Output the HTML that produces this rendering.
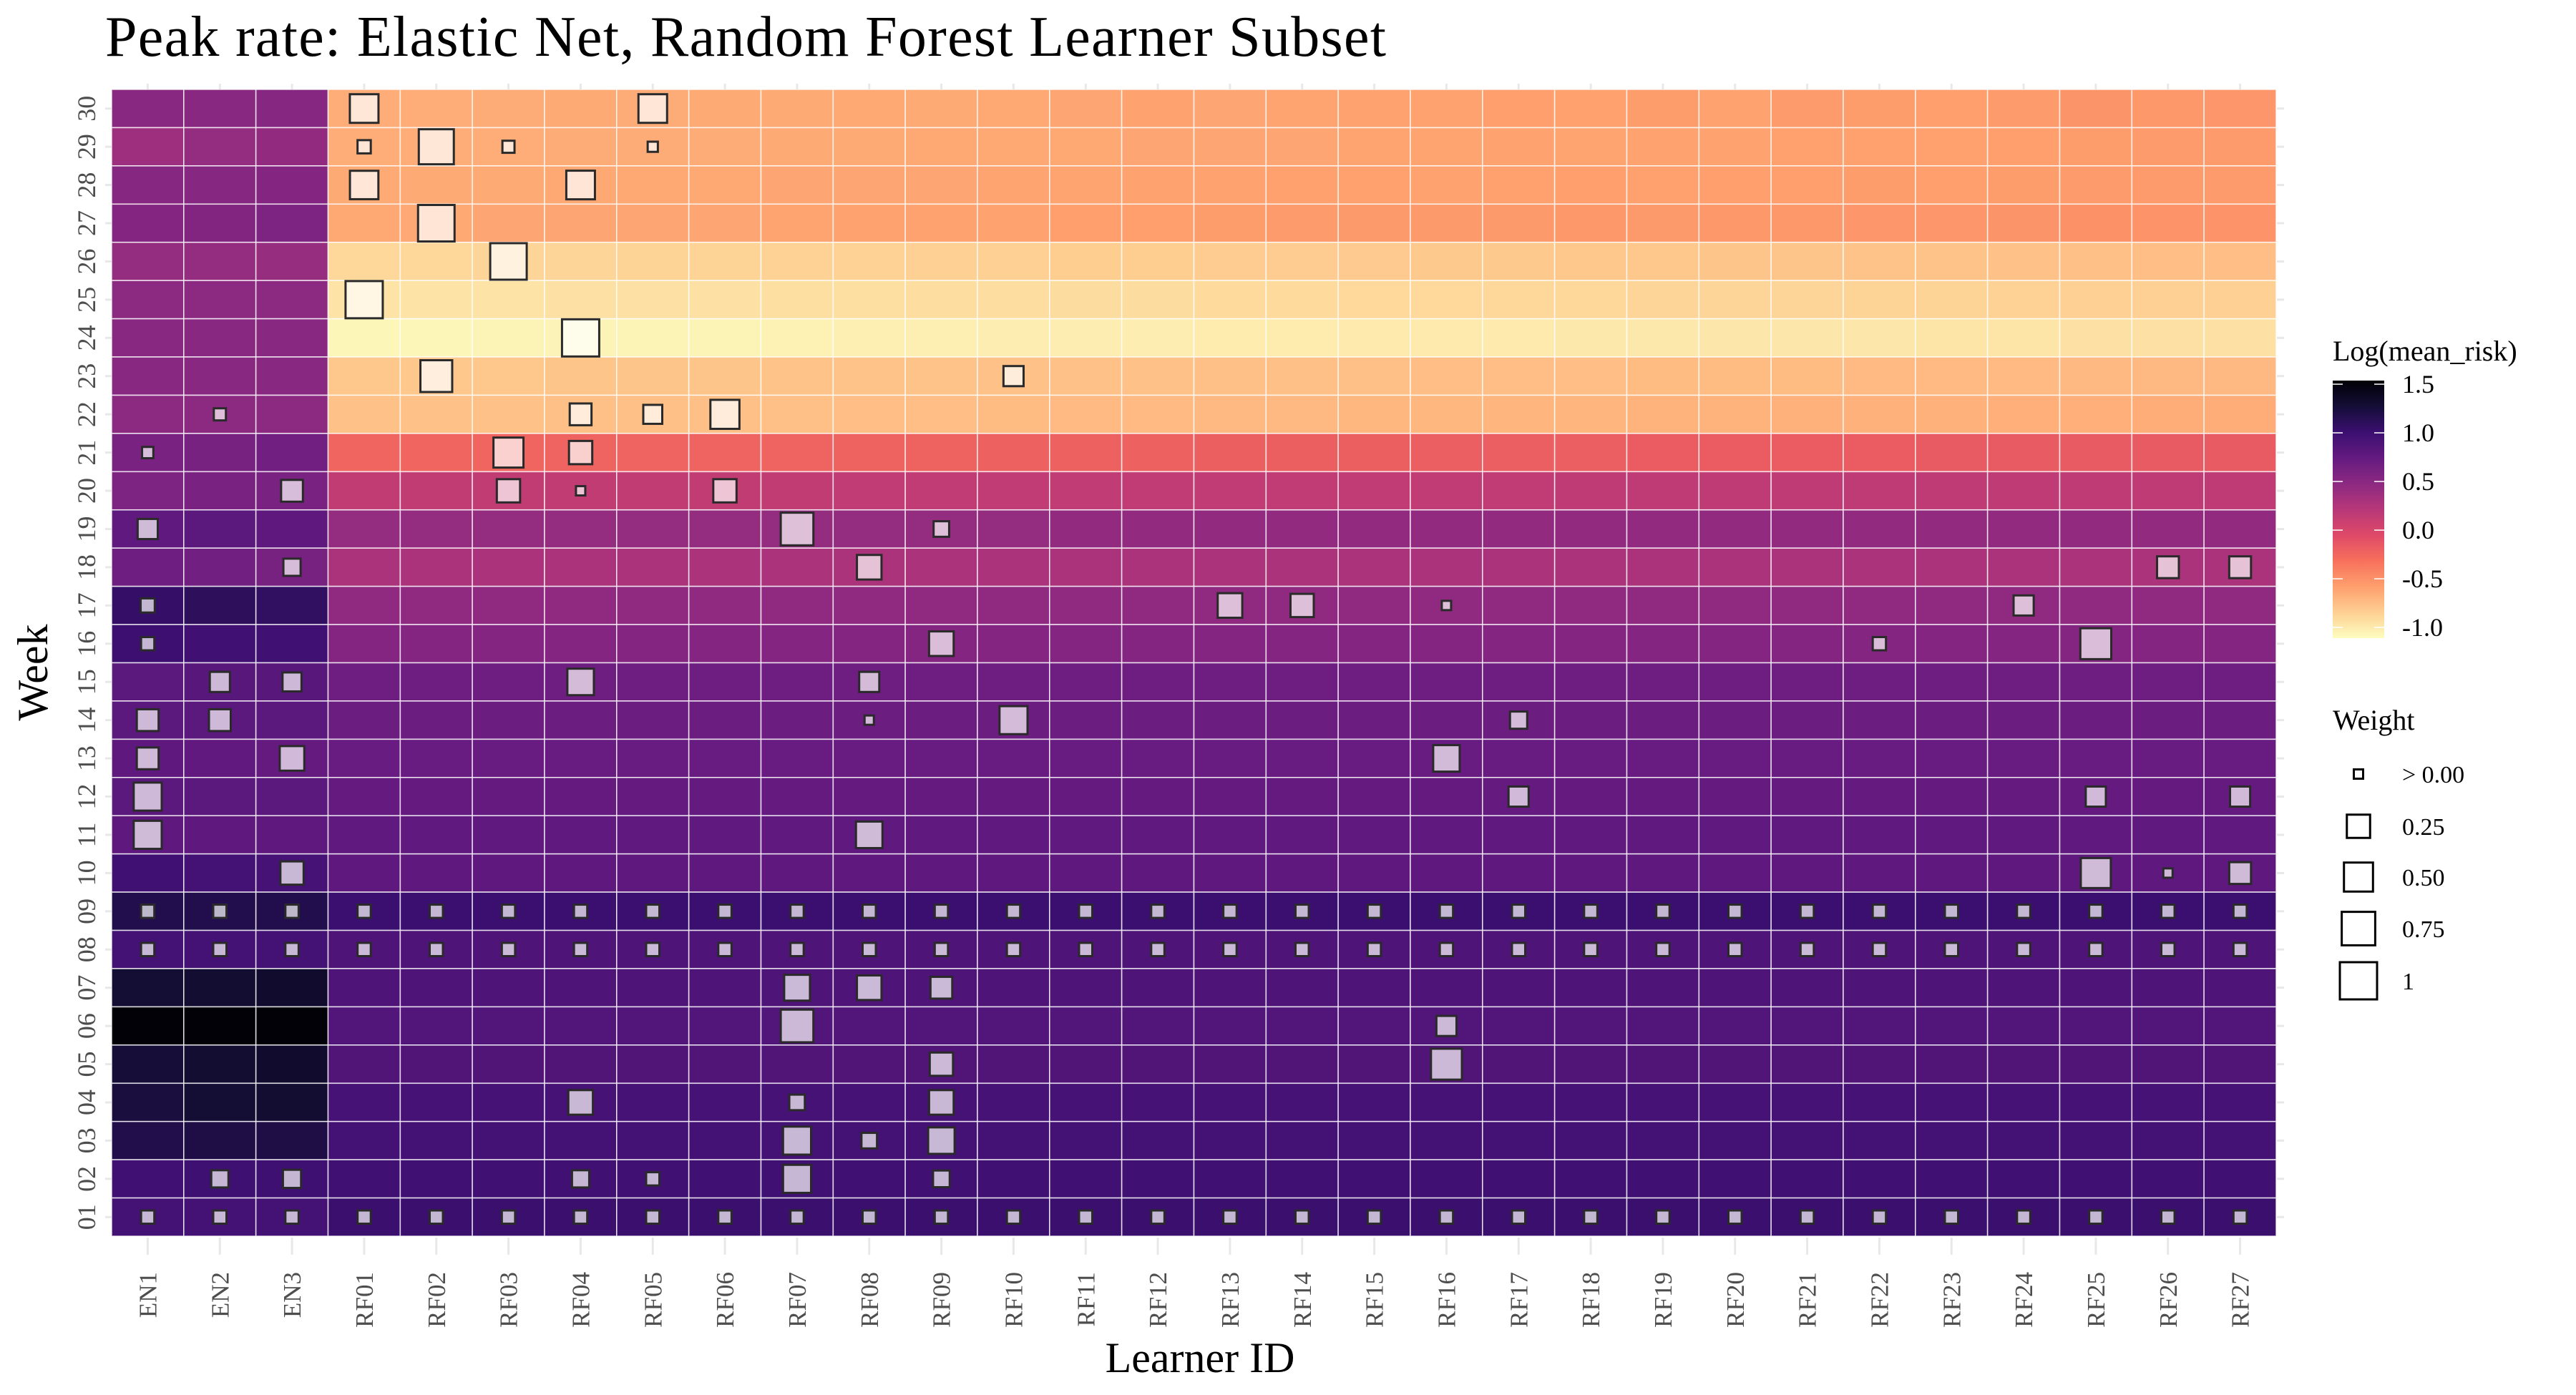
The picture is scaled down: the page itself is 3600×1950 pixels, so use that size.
<!DOCTYPE html>
<html><head><meta charset="utf-8"><style>
html,body{margin:0;padding:0;background:#fff;}
svg{display:block;font-family:"Liberation Serif","DejaVu Serif",serif;}
</style></head><body>
<svg id="chart" width="3600" height="1950" viewBox="0 0 3600 1950" xmlns="http://www.w3.org/2000/svg">
<rect width="3600" height="1950" fill="#fff"/>
<text x="147" y="78" font-size="80" textLength="1790" fill="#000">Peak rate: Elastic Net, Random Forest Learner Subset</text>
<g id="plot"></g>
<text transform="translate(66,940) rotate(-90)" text-anchor="middle" font-size="60" fill="#000">Week</text>
<text x="1677" y="1918" text-anchor="middle" font-size="60" fill="#000">Learner ID</text>
<g id="legend"></g>
</svg>
<script>
const learners = ["EN1","EN2","EN3","RF01","RF02","RF03","RF04","RF05","RF06","RF07","RF08","RF09","RF10","RF11","RF12","RF13","RF14","RF15","RF16","RF17","RF18","RF19","RF20","RF21","RF22","RF23","RF24","RF25","RF26","RF27"];
const weeks = ["30","29","28","27","26","25","24","23","22","21","20","19","18","17","16","15","14","13","12","11","10","09","08","07","06","05","04","03","02","01"];
// log(mean_risk) per week (top row = week 30), per learner
const risk = [
[0.50,0.50,0.52,-0.66,-0.66,-0.65,-0.64,-0.65,-0.64,-0.64,-0.63,-0.64,-0.63,-0.62,-0.60,-0.62,-0.61,-0.60,-0.60,-0.58,-0.59,-0.57,-0.60,-0.56,-0.57,-0.58,-0.56,-0.52,-0.54,-0.53],
[0.37,0.43,0.44,-0.66,-0.66,-0.66,-0.65,-0.65,-0.65,-0.64,-0.64,-0.63,-0.63,-0.63,-0.62,-0.62,-0.62,-0.61,-0.61,-0.60,-0.61,-0.60,-0.60,-0.59,-0.59,-0.59,-0.58,-0.57,-0.56,-0.56],
[0.52,0.52,0.53,-0.64,-0.64,-0.64,-0.63,-0.63,-0.63,-0.62,-0.62,-0.62,-0.61,-0.61,-0.60,-0.60,-0.59,-0.59,-0.60,-0.59,-0.58,-0.59,-0.58,-0.58,-0.57,-0.58,-0.57,-0.56,-0.56,-0.56],
[0.53,0.55,0.58,-0.63,-0.63,-0.62,-0.62,-0.62,-0.62,-0.61,-0.60,-0.60,-0.60,-0.58,-0.58,-0.57,-0.56,-0.55,-0.55,-0.55,-0.54,-0.55,-0.54,-0.54,-0.53,-0.53,-0.52,-0.50,-0.51,-0.51],
[0.43,0.43,0.41,-0.89,-0.89,-0.88,-0.88,-0.87,-0.87,-0.86,-0.86,-0.85,-0.85,-0.84,-0.84,-0.83,-0.83,-0.82,-0.81,-0.81,-0.80,-0.80,-0.79,-0.79,-0.78,-0.78,-0.77,-0.76,-0.75,-0.75],
[0.48,0.48,0.48,-0.96,-0.96,-0.96,-0.95,-0.95,-0.95,-0.94,-0.94,-0.93,-0.93,-0.92,-0.92,-0.91,-0.91,-0.90,-0.90,-0.89,-0.89,-0.88,-0.88,-0.88,-0.87,-0.87,-0.86,-0.85,-0.85,-0.85],
[0.50,0.50,0.50,-1.07,-1.07,-1.06,-1.06,-1.06,-1.06,-1.04,-1.03,-1.03,-1.02,-1.02,-1.02,-1.01,-1.01,-1.00,-1.00,-1.00,-0.99,-0.99,-0.98,-0.98,-0.98,-0.97,-0.97,-0.95,-0.95,-0.95],
[0.50,0.50,0.50,-0.80,-0.80,-0.80,-0.79,-0.79,-0.79,-0.78,-0.78,-0.78,-0.77,-0.77,-0.77,-0.76,-0.76,-0.76,-0.75,-0.75,-0.75,-0.74,-0.74,-0.74,-0.73,-0.73,-0.73,-0.72,-0.72,-0.72],
[0.48,0.48,0.48,-0.77,-0.77,-0.77,-0.76,-0.76,-0.76,-0.76,-0.75,-0.75,-0.74,-0.73,-0.73,-0.72,-0.72,-0.71,-0.71,-0.70,-0.70,-0.69,-0.69,-0.68,-0.68,-0.68,-0.67,-0.67,-0.66,-0.66],
[0.60,0.62,0.66,-0.24,-0.24,-0.24,-0.23,-0.23,-0.23,-0.23,-0.22,-0.22,-0.21,-0.21,-0.21,-0.20,-0.20,-0.20,-0.19,-0.19,-0.19,-0.18,-0.18,-0.18,-0.18,-0.17,-0.17,-0.17,-0.17,-0.17],
[0.58,0.60,0.60,0.14,0.14,0.14,0.14,0.14,0.14,0.14,0.15,0.15,0.15,0.15,0.15,0.15,0.15,0.15,0.15,0.15,0.16,0.16,0.16,0.16,0.16,0.16,0.16,0.16,0.16,0.16],
[0.77,0.80,0.78,0.43,0.43,0.43,0.43,0.43,0.43,0.43,0.43,0.43,0.43,0.44,0.44,0.44,0.44,0.44,0.44,0.44,0.44,0.44,0.44,0.44,0.44,0.44,0.44,0.44,0.44,0.44],
[0.68,0.66,0.62,0.29,0.29,0.29,0.29,0.29,0.29,0.29,0.29,0.29,0.29,0.29,0.29,0.29,0.29,0.29,0.29,0.29,0.29,0.29,0.29,0.29,0.29,0.29,0.29,0.29,0.29,0.29],
[1.05,1.10,1.08,0.46,0.46,0.46,0.46,0.46,0.46,0.46,0.46,0.46,0.46,0.46,0.46,0.46,0.46,0.46,0.46,0.46,0.46,0.46,0.46,0.46,0.46,0.46,0.46,0.46,0.46,0.46],
[1.00,0.98,0.98,0.53,0.53,0.53,0.53,0.53,0.53,0.53,0.53,0.53,0.53,0.53,0.53,0.53,0.53,0.53,0.53,0.53,0.53,0.53,0.53,0.53,0.53,0.53,0.53,0.53,0.53,0.53],
[0.80,0.82,0.82,0.68,0.68,0.68,0.68,0.68,0.68,0.68,0.68,0.68,0.68,0.68,0.68,0.68,0.68,0.68,0.68,0.68,0.68,0.68,0.68,0.68,0.68,0.68,0.68,0.68,0.68,0.68],
[0.80,0.80,0.80,0.70,0.70,0.70,0.70,0.70,0.70,0.70,0.70,0.70,0.70,0.70,0.70,0.70,0.70,0.70,0.70,0.70,0.70,0.70,0.70,0.70,0.70,0.70,0.70,0.70,0.70,0.70],
[0.78,0.76,0.74,0.72,0.72,0.72,0.72,0.72,0.72,0.72,0.72,0.72,0.72,0.72,0.72,0.72,0.72,0.72,0.72,0.72,0.72,0.72,0.72,0.72,0.72,0.72,0.72,0.72,0.72,0.72],
[0.80,0.80,0.80,0.74,0.74,0.74,0.74,0.74,0.74,0.74,0.74,0.74,0.74,0.74,0.74,0.74,0.74,0.74,0.74,0.74,0.74,0.74,0.74,0.74,0.74,0.74,0.74,0.74,0.74,0.74],
[0.78,0.78,0.78,0.77,0.77,0.77,0.77,0.77,0.77,0.77,0.77,0.77,0.77,0.77,0.77,0.77,0.77,0.77,0.77,0.77,0.77,0.77,0.77,0.77,0.77,0.77,0.77,0.77,0.77,0.77],
[0.98,0.95,0.93,0.78,0.78,0.78,0.78,0.78,0.78,0.78,0.78,0.78,0.78,0.78,0.78,0.78,0.78,0.78,0.78,0.78,0.78,0.78,0.78,0.78,0.78,0.78,0.78,0.78,0.78,0.78],
[1.17,1.17,1.17,1.01,1.01,1.01,1.01,1.01,1.01,1.01,1.01,1.01,1.01,1.01,1.01,1.01,1.01,1.01,1.01,1.01,1.01,1.01,1.01,1.01,1.01,1.01,1.01,1.01,1.01,1.01],
[0.95,0.95,0.95,0.88,0.88,0.88,0.88,0.88,0.88,0.88,0.88,0.88,0.88,0.88,0.88,0.88,0.88,0.88,0.88,0.88,0.88,0.88,0.88,0.88,0.88,0.88,0.88,0.88,0.88,0.88],
[1.28,1.30,1.32,0.88,0.88,0.88,0.88,0.88,0.88,0.88,0.88,0.88,0.88,0.88,0.88,0.88,0.88,0.88,0.88,0.88,0.88,0.88,0.88,0.88,0.88,0.88,0.88,0.88,0.88,0.88],
[1.52,1.52,1.52,0.86,0.86,0.86,0.86,0.86,0.86,0.86,0.86,0.86,0.86,0.86,0.86,0.86,0.86,0.86,0.86,0.86,0.86,0.86,0.86,0.86,0.86,0.86,0.86,0.86,0.86,0.86],
[1.26,1.30,1.32,0.87,0.87,0.87,0.87,0.87,0.87,0.87,0.87,0.87,0.87,0.87,0.87,0.87,0.87,0.87,0.87,0.87,0.87,0.87,0.87,0.87,0.87,0.87,0.87,0.87,0.87,0.87],
[1.24,1.28,1.30,0.93,0.93,0.93,0.93,0.93,0.93,0.93,0.93,0.93,0.93,0.93,0.93,0.93,0.93,0.93,0.93,0.93,0.93,0.93,0.93,0.93,0.93,0.93,0.93,0.93,0.93,0.93],
[1.18,1.20,1.20,0.95,0.95,0.95,0.95,0.95,0.95,0.95,0.95,0.95,0.95,0.95,0.95,0.95,0.95,0.95,0.95,0.95,0.95,0.95,0.95,0.95,0.95,0.95,0.95,0.95,0.95,0.95],
[0.98,0.99,0.99,0.98,0.98,0.98,0.98,0.98,0.98,0.98,0.98,0.98,0.98,0.98,0.98,0.98,0.98,0.98,0.98,0.98,0.98,0.98,0.98,0.98,0.98,0.98,0.98,0.98,0.98,0.98],
[0.95,0.95,0.95,1.02,1.02,1.02,1.02,1.02,1.02,1.02,1.02,1.02,1.02,1.02,1.02,1.02,1.02,1.02,1.02,1.02,1.02,1.02,1.02,1.02,1.02,1.02,1.02,1.02,1.02,1.02]
];
// weight markers: learner, week, weight
const boxLearner = ["RF01","RF05","RF01","RF02","RF03","RF05","RF01","RF04","RF02","RF03","RF01","RF04","RF02","RF10","EN2","RF04","RF05","RF06","EN1","RF03","RF04","EN3","RF03","RF04","RF06","EN1","RF07","RF09","EN3","RF08","RF26","RF27","EN1","RF13","RF14","RF16","RF24","EN1","RF09","RF22","RF25","EN2","EN3","RF04","RF08","EN1","EN2","RF08","RF10","RF17","EN1","EN3","RF16","EN1","RF17","RF25","RF27","EN1","RF08","EN3","RF25","RF26","RF27","RF07","RF08","RF09","RF07","RF16","RF09","RF16","RF04","RF07","RF09","RF07","RF08","RF09","EN2","EN3","RF04","RF05","RF07","RF09"];
const boxWeek = ["30","30","29","29","29","29","28","28","27","26","25","24","23","23","22","22","22","22","21","21","21","20","20","20","20","19","19","19","18","18","18","18","17","17","17","17","17","16","16","16","16","15","15","15","15","14","14","14","14","14","13","13","13","12","12","12","12","11","11","10","10","10","10","07","07","07","06","06","05","05","04","04","04","03","03","03","02","02","02","02","02","02"];
const boxWeight = [0.48,0.48,0.02,0.85,0.01,0.001,0.47,0.48,0.95,0.95,1.0,1.0,0.65,0.15,0.01,0.2,0.12,0.5,0.005,0.55,0.25,0.2,0.25,0.0,0.25,0.15,0.7,0.05,0.08,0.3,0.2,0.2,0.03,0.3,0.25,0.0,0.15,0.02,0.3,0.02,0.6,0.15,0.12,0.38,0.15,0.2,0.2,0.0,0.45,0.08,0.2,0.3,0.38,0.45,0.15,0.15,0.15,0.45,0.38,0.25,0.55,0.0,0.2,0.35,0.3,0.2,0.7,0.15,0.25,0.6,0.3,0.05,0.3,0.45,0.05,0.38,0.08,0.1,0.08,0.02,0.45,0.07];
const allWeeks = ["09","08","01"];
const allWeight = [0.02,0.02,0.02];
const cbTicks = [1.5,1.0,0.5,0.0,-0.5,-1.0];
const cbTickLabels = ["1.5","1.0","0.5","0.0","-0.5","-1.0"];
const legendWeights = [0.0,0.25,0.5,0.75,1.0];
const legendWeightLabels = ["> 0.00","0.25","0.50","0.75","1"];

const NS = "http://www.w3.org/2000/svg";
const X0 = 156, X1 = 3181, Y0 = 125, Y1 = 1728;
const CW = (X1 - X0) / learners.length, RH = (Y1 - Y0) / weeks.length;
const VMIN = -1.11, VMAX = 1.54;
const magma = ["#000004","#140e36","#3b0f70","#641a80","#8c2981","#b73779","#de4968","#f7705c","#fe9f6d","#fecf92","#fcfdbf"];
function hex(c){return [parseInt(c.slice(1,3),16),parseInt(c.slice(3,5),16),parseInt(c.slice(5,7),16)];}
function color(v){
  let t = 1 - (v - VMIN) / (VMAX - VMIN);
  t = Math.max(0, Math.min(1, t));
  const p = t * 10, i = Math.min(9, Math.floor(p)), f = p - i;
  const a = hex(magma[i]), b = hex(magma[i+1]);
  return "rgb(" + a.map((x,k)=>Math.round(x + (b[k]-x)*f)).join(",") + ")";
}
function xScale(name){return X0 + (learners.indexOf(name) + 0.5) * CW;}
function yScale(week){return Y0 + (weeks.indexOf(week) + 0.5) * RH;}
function sizeScale(w){return 13 + 39 * Math.sqrt(Math.max(0, w));}
function el(tag, attrs, parent){const e=document.createElementNS(NS,tag);for(const k in attrs)e.setAttribute(k,attrs[k]);parent.appendChild(e);return e;}

const plot = document.getElementById("plot");
weeks.forEach((wk, r) => {
  learners.forEach((ln, c) => {
    const t = el("rect", {x: xScale(ln) - CW/2, y: yScale(wk) - RH/2, width: CW, height: RH, fill: color(risk[r][c]), stroke: "rgba(255,255,255,0.75)", "stroke-width": 1.6}, plot);
    
    
  });
});
function drawBox(ln, wk, w){
  const s = sizeScale(w);
  const b = el("rect", {x: xScale(ln) - s/2, y: yScale(wk) - s/2, width: s, height: s, fill: "rgba(255,255,255,0.7)", stroke: "#2a2a2a", "stroke-width": 3}, plot);
  
  
}
boxLearner.forEach((ln, i) => drawBox(ln, boxWeek[i], boxWeight[i]));
allWeeks.forEach((wk, i) => learners.forEach(ln => drawBox(ln, wk, allWeight[i])));
learners.forEach(ln => {
  const x = xScale(ln);
  const tb = el("line", {x1: x, x2: x, y1: Y1 + 2, y2: Y1 + 26, stroke: "#e8e8e8", "stroke-width": 3}, plot);
  
  
  el("line", {x1: x, x2: x, y1: Y0 - 8, y2: Y0, stroke: "#e8e8e8", "stroke-width": 3}, plot);
  const lb = el("text", {transform: "translate(" + (x + 12) + "," + 1778 + ") rotate(-90)", "text-anchor": "end", "font-size": 35, fill: "#4d4d4d"}, plot);
  lb.textContent = ln;
  
  
});
weeks.forEach(wk => {
  const y = yScale(wk);
  el("line", {x1: X0 - 9, x2: X0, y1: y, y2: y, stroke: "#e8e8e8", "stroke-width": 3}, plot);
  el("line", {x1: X1 + 1, x2: X1 + 11, y1: y, y2: y, stroke: "#e8e8e8", "stroke-width": 3}, plot);
  const lb = el("text", {transform: "translate(" + 133 + "," + y + ") rotate(-90)", "text-anchor": "middle", "font-size": 36, fill: "#4d4d4d"}, plot);
  lb.textContent = wk;
  
  
});
const lg = document.getElementById("legend");
const t1 = el("text", {x: 3260, y: 504, "font-size": 40, fill: "#000"}, lg);
t1.textContent = "Log(mean_risk)";


const CBX = 3260, CBW = 72, CBT = 532, CBB = 892;
const CVMAX = 1.537, CVMIN = -1.11;
function cbY(v){return CBT + (CVMAX - v) / (CVMAX - CVMIN) * (CBB - CBT);}
const defs = el("defs", {}, lg);
const grad = el("linearGradient", {id: "cbgrad", x1: 0, y1: 0, x2: 0, y2: 1}, defs);
for (let i = 0; i <= 20; i++) {
  const v = CVMAX - (CVMAX - CVMIN) * i / 20;
  el("stop", {offset: (i/20*100) + "%", "stop-color": color(v)}, grad);
}
const cb = el("rect", {x: CBX, y: CBT, width: CBW, height: CBB - CBT, fill: "url(#cbgrad)"}, lg);


cbTicks.forEach((v, i) => {
  const y = cbY(v);
  el("line", {x1: CBX, x2: CBX + 14, y1: y, y2: y, stroke: "#fff", "stroke-width": 1.5}, lg);
  el("line", {x1: CBX + CBW - 14, x2: CBX + CBW, y1: y, y2: y, stroke: "#fff", "stroke-width": 1.5}, lg);
  const tx = el("text", {x: 3357, y: y + 12, "font-size": 36, fill: "#000"}, lg);
  tx.textContent = cbTickLabels[i];
  
  
});
const t2 = el("text", {x: 3260, y: 1020, "font-size": 40, fill: "#000"}, lg);
t2.textContent = "Weight";


const legY = [1082, 1155, 1226, 1298, 1371];
legendWeights.forEach((w, i) => {
  const s = sizeScale(w);
  const r = el("rect", {x: 3296 - s/2, y: legY[i] - s/2, width: s, height: s, fill: "none", stroke: "#000", "stroke-width": 3}, lg);
  
  
  const tx = el("text", {x: 3357, y: legY[i] + 12, "font-size": 34, fill: "#000"}, lg);
  tx.textContent = legendWeightLabels[i];
  
  
});
</script>
</body></html>
